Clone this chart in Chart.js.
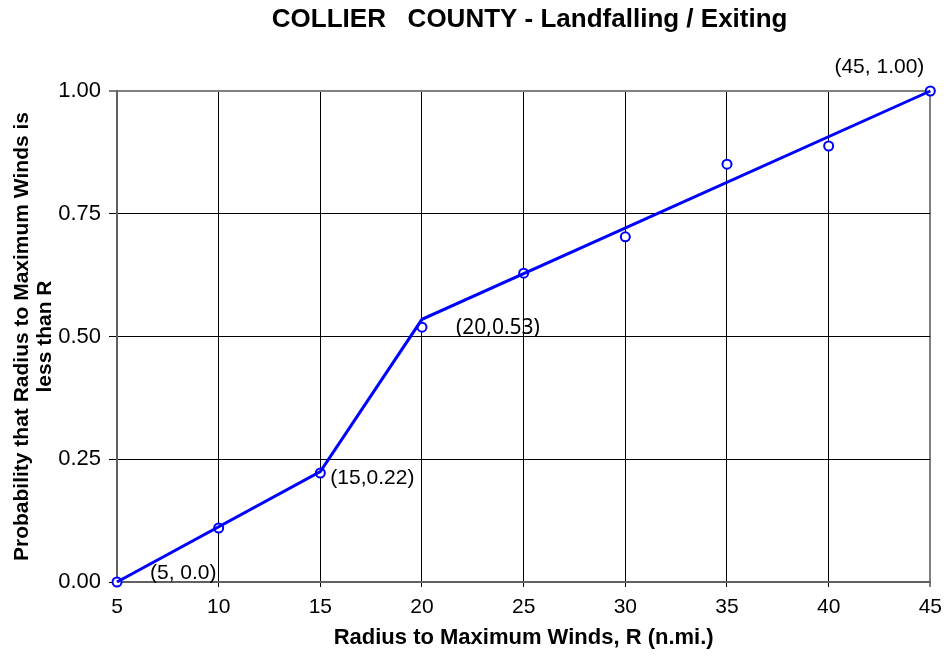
<!DOCTYPE html>
<html>
<head>
<meta charset="utf-8">
<script src="https://cdn.jsdelivr.net/npm/chart.js@4/dist/chart.umd.min.js"></script>
<style>
  body { margin: 0; background: #fff; }
  canvas { display: block; }
</style>
</head>
<body>
<canvas id="chart" width="950" height="658"></canvas>
<script>
// radius to maximum winds (n.mi.)
var radii = [5, 10, 15, 20, 25, 30, 35, 40, 45];
// observed cumulative probability (circle markers)
var observed = [0.0, 0.11, 0.222, 0.519, 0.629, 0.703, 0.851, 0.888, 1.0];
// fitted piecewise line
var fitX = [5, 15, 20, 45];
var fitY = [0.0, 0.225, 0.535, 1.0];
// point labels
var labelText = ['(5, 0.0)', '(15,0.22)', '(20,0.53)', '(45, 1.00)'];
var labelX = [5, 15, 20, 45];
var labelY = [0.0, 0.22, 0.53, 1.0];
var chartTitle = 'COLLIER   COUNTY - Landfalling / Exiting';

var blue = '#0000ff';
var arial = "'Liberation Sans', Arial, sans-serif";

// title centred over the plot area, plus the point labels
var extras = {
  id: 'extras',
  afterDatasetsDraw: function(chart) {
    var ctx = chart.ctx, xs = chart.scales.x, ys = chart.scales.y, a = chart.chartArea;
    ctx.save();
    ctx.fillStyle = '#000';
    ctx.textBaseline = 'middle';
    ctx.textAlign = 'center';
    ctx.font = 'bold 26px ' + arial;
    ctx.fillText(chartTitle, (a.left + a.right) / 2 + 6, 20);

    var style = [
      { dx: 33, dy: -9, align: 'left', font: '21px ' + arial },
      { dx: 10, dy: 4, align: 'left', font: '21px ' + arial },
      { dx: 34, dy: 6, align: 'left', font: "21px 'Noto Sans', sans-serif" },
      { dx: -6, dy: -24, align: 'right', font: '21px ' + arial }
    ];
    labelText.forEach(function(t, i) {
      ctx.font = style[i].font;
      ctx.textAlign = style[i].align;
      ctx.fillText(t, xs.getPixelForValue(labelX[i]) + style[i].dx, ys.getPixelForValue(labelY[i]) + style[i].dy);
    });
    ctx.restore();
  }
};

var ctx = document.getElementById('chart').getContext('2d');
var myChart = new Chart(ctx, {
  type: 'scatter',
  data: {
    datasets: [{
      label: 'fit',
      data: fitX.map(function(x, i) { return { x: x, y: fitY[i] }; }),
      showLine: true,
      borderColor: blue,
      borderWidth: 3,
      pointRadius: 0,
      fill: false,
      clip: false
    }, {
      label: 'observed',
      data: radii.map(function(x, i) { return { x: x, y: observed[i] }; }),
      showLine: false,
      pointRadius: 4.5,
      pointBorderWidth: 2,
      pointBorderColor: blue,
      pointBackgroundColor: '#fff',
      clip: false
    }]
  },
  options: {
    responsive: false,
    animation: false,
    layout: { padding: { left: 8, right: 19, top: 91, bottom: 3 } },
    plugins: {
      legend: { display: false },
      tooltip: { enabled: false },
      title: { display: false }
    },
    scales: {
      x: {
        type: 'linear',
        min: 5,
        max: 45,
        afterFit: function(s) { s.height = 73; },
        ticks: {
          stepSize: 5,
          color: '#000',
          padding: 8,
          font: { family: arial, size: 21 }
        },
        grid: {
          color: function(c) { return c.tick && c.tick.value === 45 ? '#808080' : '#000'; },
          lineWidth: function(c) { return c.tick && c.tick.value === 45 ? 2 : 1; },
          tickLength: 5
        },
        border: { color: '#606060', width: 2 },
        title: {
          display: true,
          text: 'Radius to Maximum Winds, R (n.mi.)',
          color: '#000',
          font: { family: arial, size: 22, weight: 'bold' },
          padding: { top: 4, bottom: 4 }
        }
      },
      y: {
        min: 0,
        max: 1,
        afterFit: function(s) { s.width = 109; },
        ticks: {
          stepSize: 0.25,
          color: '#000',
          padding: 8,
          font: { family: arial, size: 22 },
          callback: function(v) { return v.toFixed(2); }
        },
        grid: {
          color: function(c) { return c.tick && c.tick.value === 1 ? '#808080' : '#000'; },
          lineWidth: function(c) { return c.tick && c.tick.value === 1 ? 2 : 1; },
          tickLength: 8
        },
        border: { color: '#606060', width: 2 },
        title: {
          display: true,
          text: ['Probability that Radius to Maximum Winds is', 'less than R'],
          color: '#000',
          font: { family: arial, size: 21, weight: 'bold', lineHeight: 1.1 },
          padding: { top: 3, bottom: 0 }
        }
      }
    }
  },
  plugins: [extras]
});
</script>
</body>
</html>
